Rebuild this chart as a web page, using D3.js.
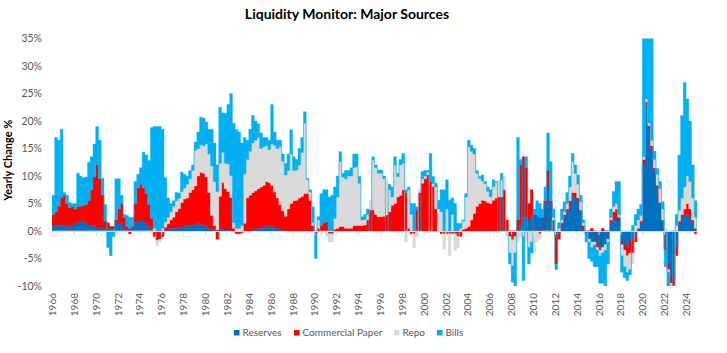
<!DOCTYPE html>
<html>
<head>
<meta charset="utf-8">
<script src="https://cdn.jsdelivr.net/npm/d3@7"></script>
<style>
  body { margin: 0; background: #fff; }
  svg { display: block; font-family: Lato, "Open Sans", sans-serif; }
</style>
</head>
<body>
<div id="chart"></div>
<script>
// quarterly yearly-change %, 1966 Q1 .. 2025 Q1
const startYear = 1966;
const seriesNames = ['Reserves', 'Commercial Paper', 'Repo', 'Bills'];
const seriesColors = ['#0070C0', '#FF0000', '#D9D9D9', '#00B0F0'];
const yTicks = [-10, -5, 0, 5, 10, 15, 20, 25, 30, 35];
const xTickYears = d3.range(1966, 2025, 2);

const reserves = [
  1, 1, 1, 1,          1, 1, 0.7, 1,        1.5, 1.5, 1.8, 1.7,  1.3, 1, 1, 0.8,
  0.6, 0.5, 0.6, 0.3,  0.5, 0.3, 0.5, 1.5,  1.5, 1.5, 0.5, 0.3,  0.5, 0.5, 1.5, 1.8,
  2, 1.8, 1.3, 0.8,    0.3, 0, -0.2, 0,     0, 0.2, 0.3, 0.5,    0.5, 0.5, 0.6, 0.7,
  0.8, 1, 1, 1,        1.2, 1.5, 1.2, 1,    0.8, 0.5, 0.3, 0.2,  0.2, 0.3, 0.3, 0.2,
  0.2, 0.1, 0, 0,      0, 0, 0, 0,          0, 0.2, 0.3, 0.5,    0.5, 0.8, 1, 0.8,
  0.8, 0.6, 0.5, 0.3,  0.2, 0.1, 0, 0,      0, 0, 0, 0,          0, 0, 0, 0,
  0, 0, 0, 0,          0, 0, 0, 0,          0, 0, 0, 0,          0, 0, 0, 0,
  0, 0, 0, 0,          0, 0, 0, 0,          0, 0, 0, 0,          0, 0, 0, 0,
  0, 0, 0, 0,          0, 0, 0, 0,          0, 0, 0, 0,          0, 0, 0, 0,
  0, 0, 0, 0,          0, 0, 0, 0,          0, 0, 0, 0,          0, 0, 0, 0,
  0, 0, 0, 0,          0, 0, 0, 0,          0, 0, 0, 1,          2.5, 2.5, 2, 2.5,
  3, 3, 2.5, 2.5,      5, 8, 5, 2,          -1, -0.5, 1, 2.5,    3.5, 4.5, 6.5, 6,
  5.5, 3.5, 1, -0.5,   -1.5, -2, -2, -2.5,  -3, -3, -2.5, -1.5,  1.5, 2.5, 2, 2,
  -2, -2.5, -3, -2,    -1.5, -1, 0.5, 1.5,  12, 23, 19, 15,      11, 8, 5, 2,
  -3, -6, -8, -9,      -3, 1.5, 2.5, 3,     3, 2.5, 1.5, 0.5,
  0
];

const commercialPaper = [
  2, 2.5, 3.5, 5,      5.5, 4, 3.5, 3.5,    2.5, 3, 2.7, 3,      3.5, 4.5, 6.5, 9,
  11.5, 9, 6, 1.5,     1, 0.5, 0.3, 0.5,    2.5, 3.5, 2, 0.5,    -0.5, 0.3, 3.5, 6,
  6.5, 6, 5.5, 4,      2, -1, -1.5, -1.5,   -1, 0.5, 1, 1.5,     2, 3, 3.5, 4.5,
  5, 5, 6, 6.5,        7, 8.5, 9.5, 9.5,    9, 6.5, 2.5, 0.8,    -1.5, 6, 8.5, 7.5,
  7, 6, 0.5, -0.5,     -0.5, -0.3, 1.4, 6,  6.5, 6.8, 7, 7.2,    7.5, 7.5, 8, 8,
  7.5, 6.5, 5.5, 4.5,  3.5, 2.6, 4, 5,      5.5, 5.6, 6, 6.3,    6.8, 6.8, 5.6, 1,
  -0.5, 0.5, 1, 1.5,   1.7, -0.5, -0.5, 0.3, 0.5, 0.8, 0.8, 0.5, 0.5, 0.5, 1, 1,
  1, 1, 1.1, 2,        3.8, 3.8, 3, 2.6,    2.6, 2.7, 2.9, 3.5,  4.7, 5, 6.2, 6.5,
  7.5, 7, 0.5, -0.5,   -0.5, 3.8, 7, 8.7,   9.5, 10.2, 9, 8.1,   4, 0, -0.5, -0.5,
  -0.5, -0.5, -0.5, -0.5, -1, -1, 0.3, 0.5, 0.8, 2, 3.2, 4.5,   5, 5.6, 5.5, 5.2,
  5, 5.6, 6, 6.2,      6.2, 7.5, 2, -1,     -1.6, -1, 2, 11,     11, 9, 3, 5,
  0, 0, -0.5, 0,       0.5, 3, 0.5, 0,      -5, -1, 0.5, 0.5,    0.5, 1, 0.5, 1,
  0.5, 0.3, 0, 0,      0, 0.5, 0, -0.5,     -0.5, 0.5, 0, 0,     0.5, 1, 2, 0.5,
  -0.5, -1, -1.5, -2,  -2.5, -1, 0, 0.3,    1, 0.5, 0.2, 0.5,    0.5, 0.3, 0.2, 0,
  -0.5, -1, -1.5, -1,  -1.5, 0.3, 0.5, 1,   2, 1.5, 0.5, -0.5,
  -0.5
];

const repo = [
  0, 0, 0, 0,          0, 0, 0, 0,          0, 0, 0, 0,          0, 0, 0, 0,
  0, 0, 0, 0,          0, 0, 0, 0,          0, 0, 0, 0,          0, 0, 0, 0,
  0, 0, 0, 0,          0, 0.5, -1, -0.5,    0.5, 1, 1.2, 1.5,    2, 2, 1.8, 2,
  2, 2.5, 2.5, 3.5,    6.5, 5, 5, 5,        6, 7, 9, 8,          7, 6, 5.5, 4.6,
  5, 4, 1, 0.5,        0.5, 1, 9, 7,        8, 9, 9.2, 9.3,      7, 7, 6.5, 6,
  7.5, 8.5, 9, 10.5,   9, 7.5, 7, 9,        5.5, 5.5, 6, 8,      12.8, 2.5, 1.5, 0.5,
  0, 1.5, -0.5, 0,     -1, -1.5, -1.5, 2,   5.7, 11.8, 9, 9,     9.5, 9.5, 10.5, 10.7,
  7.7, 1, 1, 1,        1.8, 9.1, 8.5, 7.9,  7.9, 6.8, 6.4, 4,    1.5, 7, 3.7, 5.5,
  4.8, -2, 7, 3,       -2.5, -1, 0.5, 0.8,  0.5, 0.5, 0, 0.5,    4, 4, 3.5, -2.8,
  4, -4, 3, -3,        -2, 0.5, 1.5, 5.7,   14.5, 12.5, 10.8, 6, 4.6, 3.5, 3.1, 2,
  1.2, 2.5, 2.8, 3,    3.1, 2.5, -1, -3,    -4.7, -3, -2, -1,    -1, -2, -3, -2,
  -4, -2, -1, 0,       0, 0, 0, 0.5,        0, 0.5, 0.5, 0.5,    1, 2.5, 5.6, 3.5,
  2.5, 1.5, 0.5, 0,    -0.5, -1, -0.5, -0.5, -1, -1, -1, -0.5,  0.5, 1, 1, 0.5,
  -2, -3, -3, -3,      -2, 1, 1.5, 1,       0.5, 0.5, 0.5, 1,    1.5, 2, 2.5, 2,
  0.5, -0.5, -0.5, -0.5, 1, 2, 3, 4,        5, 5, 4, 2,
  -1
];

const bills = [
  3.5, 13.5, 12, 12.5, 0.5, 1.5, 1, 0.5,    1, 6, 5.5, 5,        5, 7, 6, 6,
  6.9, 7, 3, 3,        -3, -4.5, -1, 7.5,   5.5, 1.5, 0.5, 2,    2, 1.7, 4, 2.5,
  3, 6.5, 7, 8,        16.5, 18.5, 19, 19,  18, 8, 3.5, 1.5,     1, 1.5, 1, 3.5,
  2.5, 1.5, 1.5, 1,    1.5, 3, 5, 5,        4, 4.5, 6.7, 7,      4.8, 10.2, 7.2, 9.1,
  10.8, 14.9, 18.1, 17.9, 17.5, 15, 6.6, 3.5, 4, 5, 3.5, 2.5,    2.8, 1.7, 1.5, 1.7,
  7.2, 2.4, 1.5, 1.2,  1.3, 2.1, 3, 4.4,    2.5, 1.9, 3, 2.7,    2.1, 0.3, 0.4, 2.9,
  -4.5, 0.6, 5.8, 6,   5.8, 6.2, 6.5, 5.7,  3.8, 1.8, 0.7, 1.5,  1, 1.5, 2.5, 2.3,
  1.2, 0.6, 0.9, 1,    0, 0.6, 0.5, 0.6,    0.6, 0.5, 0, 1,      1.8, 1.5, 0.6, 1,
  1.8, 0.5, 0.5, 2,    5, 0.6, 0, 1.3,      1, 0.3, 5.1, 1.3,    0.7, 1.6, 4, 7.5,
  5.3, 5.6, 3, 5,      1.4, 0.9, 0.2, 0.6,  1.2, 1.1, 1, 0.5,    0.3, 1.1, 0.4, 0.8,
  1.3, 1.2, 0.2, 0,    1.2, 0, 0, -2,       -3, -6, 15, 1,       -8, 2, -3, -2,
  1, 2.5, 2.5, 1.5,    2.5, 6.8, 7.1, 1.5,  -1, 1, 2, 1.8,       2, 2, 1.5, 1.5,
  1.7, 1.2, 0.5, -1.5, -3, -2.5, -4, -3,    -5, -5.5, -6.5, -4,  1.5, 2.7, 4, 6,
  -3, -2, -1.5, -1,    1, 2, 2, 2,          30, 20, 20, 22,      1.5, 1.1, 1.3, 1.3,
  -3, -4, -2, 0,       2, 10, 15, 19,       14, 11, 6, 3,
  1
];

const width = 727, height = 353;
const margin = { left: 52, right: 30, top: 38.5, bottom: 67 };

// build the table the stack wants
const rows = reserves.map((v, i) => ({
  year: startYear + i * 0.25,
  'Reserves': v,
  'Commercial Paper': commercialPaper[i],
  'Repo': repo[i],
  'Bills': bills[i]
}));

const svg = d3.select('#chart').append('svg')
  .attr('width', width)
  .attr('height', height);

const x = d3.scaleLinear()
  .domain([1966, 2025])
  .range([margin.left, width - margin.right]);

const y = d3.scaleLinear()
  .domain([-10, 35])
  .range([height - margin.bottom, margin.top]);

const stack = d3.stack()
  .keys(seriesNames)
  .offset(d3.stackOffsetDiverging);
const layers = stack(rows);

const color = d3.scaleOrdinal().domain(seriesNames).range(seriesColors);

svg.append('clipPath')
  .attr('id', 'plotClip')
  .append('rect')
  .attr('x', margin.left)
  .attr('y', y(35))
  .attr('width', x(2025) - margin.left)
  .attr('height', y(-10) - y(35));

const area = d3.area()
  .curve(d3.curveStepAfter)
  .x(d => x(d.data.year))
  .y0(d => y(d[0]))
  .y1(d => y(d[1]));

svg.append('g')
  .attr('clip-path', 'url(#plotClip)')
  .selectAll('path')
  .data(layers)
  .enter().append('path')
  .attr('d', area)
  .attr('fill', d => color(d.key))
  .attr('stroke', d => color(d.key))
  .attr('stroke-width', 0.4);

// zero line with small ticks
const zeroAxis = svg.append('g')
  .attr('transform', `translate(0,${y(0)})`)
  .call(d3.axisBottom(x).tickValues(xTickYears).tickSize(4).tickFormat(''));
zeroAxis.select('.domain').attr('stroke', '#d9d9d9');
zeroAxis.selectAll('.tick line').attr('stroke', '#d9d9d9');

// year labels along the bottom
const yearAxis = svg.append('g')
  .attr('transform', `translate(0,${y(-10) + 4})`)
  .call(d3.axisBottom(x).tickValues(xTickYears).tickSize(0).tickFormat(d3.format('d')));
yearAxis.select('.domain').remove();
yearAxis.selectAll('text')
  .attr('transform', 'rotate(-90)')
  .attr('x', -3)
  .attr('y', 0)
  .attr('dy', '0.35em')
  .style('text-anchor', 'end')
  .style('font-size', '10px')
  .style('font-family', 'Lato, sans-serif')
  .attr('fill', '#595959');

// y axis labels
const yAxis = svg.append('g')
  .attr('transform', `translate(${margin.left - 10},0)`)
  .call(d3.axisLeft(y).tickValues(yTicks).tickSize(0).tickPadding(0).tickFormat(d => d + '%'));
yAxis.select('.domain').remove();
yAxis.selectAll('text')
  .style('font-size', '10.5px')
  .style('font-family', 'Lato, sans-serif')
  .attr('fill', '#595959');

svg.append('text')
  .attr('transform', `translate(12,${(y(-10) + y(35)) / 2 - 2}) rotate(-90)`)
  .attr('text-anchor', 'middle')
  .style('font-size', '11px')
  .style('font-weight', 'bold')
  .attr('fill', '#000')
  .text('Yearly Change %');

svg.append('text')
  .attr('x', 347)
  .attr('y', 19)
  .attr('text-anchor', 'middle')
  .style('font-size', '14px')
  .style('font-weight', 'bold')
  .attr('fill', '#000')
  .text('Liquidity Monitor: Major Sources');

// legend
const legendX = [234, 294, 394, 437];
const legend = svg.append('g').attr('transform', 'translate(0,330)');
const item = legend.selectAll('g')
  .data(seriesNames)
  .enter().append('g')
  .attr('transform', (d, i) => `translate(${legendX[i]},0)`);
item.append('rect')
  .attr('width', 5.5)
  .attr('height', 5.5)
  .attr('fill', d => color(d));
item.append('text')
  .attr('x', 8.5)
  .attr('y', 5.5)
  .style('font-size', '10px')
  .attr('fill', '#595959')
  .text(d => d);
</script>
</body>
</html>
